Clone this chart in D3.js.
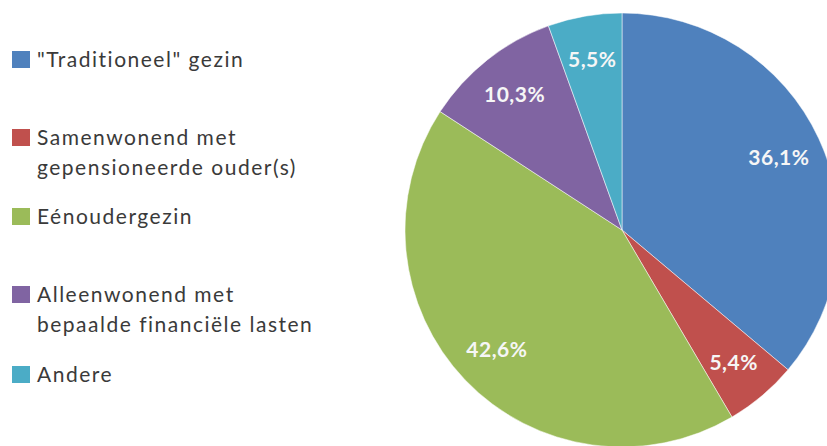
<!DOCTYPE html>
<html>
<head>
<meta charset="utf-8">
<script src="https://cdn.jsdelivr.net/npm/d3@7"></script>
<style>
  body { margin: 0; background: #fff; }
  svg { display: block; }
  text { font-variant-ligatures: none; }
</style>
</head>
<body>
<div id="chart"></div>
<script>
// Pie data
var categories = ["\"Traditioneel\" gezin", "Samenwonend met gepensioneerde ouder(s)", "Eénoudergezin", "Alleenwonend met bepaalde financiële lasten", "Andere"];
var legendLines = [["\"Traditioneel\" gezin"], ["Samenwonend met", "gepensioneerde ouder(s)"], ["Eénoudergezin"], ["Alleenwonend met", "bepaalde financiële lasten"], ["Andere"]];
var values = [36.1, 5.4, 42.6, 10.3, 5.5];
var valueLabels = ["36,1%", "5,4%", "42,6%", "10,3%", "5,5%"];
var colors = ["#4F81BD", "#C0504D", "#9BBB59", "#8064A2", "#4BACC6"];

var width = 827, height = 446;
var cx = 622, cy = 230, radius = 217;

var svg = d3.select("#chart").append("svg")
  .attr("width", width)
  .attr("height", height);

var color = d3.scaleOrdinal().domain(categories).range(colors);

var pie = d3.pie().sort(null).value(function(d) { return d.value; });
var arc = d3.arc().innerRadius(0).outerRadius(radius);
var labelArc = d3.arc().innerRadius(173).outerRadius(173);

var data = categories.map(function(c, i) { return { cat: c, value: values[i], label: valueLabels[i] }; });

var g = svg.append("g").attr("transform", "translate(" + cx + "," + cy + ")");

g.selectAll(".slice")
  .data(pie(data))
  .enter()
  .append("path")
    .attr("class", "slice")
    .attr("d", arc)
    .style("fill", function(d) { return color(d.data.cat); })
    .style("stroke", "#fff")
    .style("stroke-opacity", 0.5)
    .style("stroke-width", 1);

g.selectAll(".vlabel")
  .data(pie(data))
  .enter()
  .append("text")
    .attr("class", "vlabel")
    .attr("transform", function(d) { return "translate(" + labelArc.centroid(d) + ")"; })
    .attr("dy", "0.36em")
    .style("text-anchor", "middle")
    .style("font-family", "Lato, sans-serif")
    .style("font-weight", 700)
    .style("font-size", "21px")
    .style("letter-spacing", "0.5px")
    .style("fill", "#f6f6f6")
    .text(function(d) { return d.data.label; });

// Legend
var legendBaselines = [67, 145, 224, 302, 382];
var lineGap = 30;

var legend = svg.selectAll(".legend")
  .data(data)
  .enter()
  .append("g")
    .attr("class", "legend")
    .attr("transform", function(d, i) { return "translate(0," + legendBaselines[i] + ")"; });

legend.append("rect")
  .attr("x", 12).attr("y", -16)
  .attr("width", 18).attr("height", 17)
  .style("fill", function(d) { return color(d.cat); });

legend.append("text")
  .attr("x", 37)
  .style("font-family", "Lato, sans-serif")
  .style("font-size", "21px")
  .style("letter-spacing", "1.5px")
  .style("fill", "#3a3a3a")
  .selectAll("tspan")
  .data(function(d, i) { return legendLines[i]; })
  .enter()
  .append("tspan")
    .attr("x", 37)
    .attr("y", function(d, j) { return j * lineGap; })
    .text(function(d) { return d; });
</script>
</body>
</html>
